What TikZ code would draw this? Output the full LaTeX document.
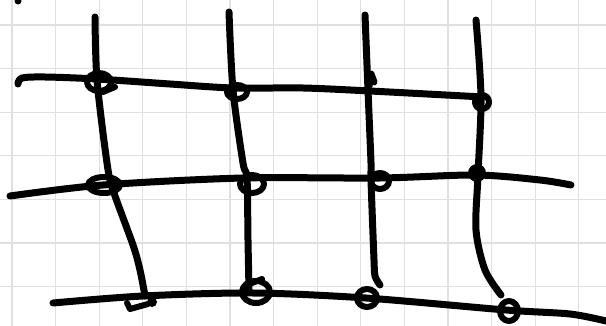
\documentclass[tikz,border=0pt]{standalone}
\begin{document}
\begin{tikzpicture}[x=1pt, y=-1pt, line cap=round, line join=round,
    stroke/.style={line width=7pt},
    knot/.style={line width=6pt}]
    \useasboundingbox (0,0) rectangle (606,326);

    % squared paper
    \foreach \x in {0,...,13} {
        \draw[black!12, line width=1.2pt] (12+43.6*\x, 0) -- ++(0, 326);
    }
    \foreach \y in {0,...,6} {
        \draw[black!12, line width=1.2pt] (0, 25+43.6*\y) -- ++(606, 0);
    }
    \fill (18,1) circle (3.5pt);

    % horizontal strokes
    \draw[stroke] plot[smooth] coordinates {(18,84) (22,78) (45,77) (97,79) (170,84) (233,88) (303,88) (370,91) (483,97)};
    \draw[stroke] plot[smooth] coordinates {(10,196) (103,185) (243,178) (380,178) (476,175) (540,180) (571,185)};
    \draw[stroke] plot[smooth] coordinates {(53,303) (143,296) (253,293) (366,298) (506,310) (570,314) (606,321)};

    % vertical strokes
    \draw[stroke] plot[smooth] coordinates {(95,17) (97,80) (107,163) (113,190) (133,245) (140,270) (145,296)};
    \draw[stroke] plot[smooth] coordinates {(229,12) (233,90) (243,163) (247,178) (248,240) (249,290)};
    \draw[stroke] plot[smooth] coordinates {(365,15) (368,90) (371,163) (371,180) (374,260) (375,276) (380,285)};
    \draw[stroke] plot[smooth] coordinates {(476,20) (481,97) (478,175) (476,230) (485,270) (501,295)};

    % knots at the crossings
    \foreach \x/\y/\a/\b in {99/82/12/9, 237/92/10/7, 482/102/7/7, 104/185/16/8,
                             252/184/12/9, 380/181/9/8, 256/292/14/11, 367/298/10/9, 509/311/9/10} {
        \draw[knot] (\x,\y) ellipse ({\a pt} and {\b pt});
    }
    \draw[knot] (103,92) -- (115,87);
    \fill (477,173) circle (9pt);
    \fill (152,302) circle (5pt);
    \draw[stroke] (369,86) -- (371,74) -- (374,82);
    \draw[knot] (127,303) -- (130,309) -- (148,304);
    \draw[knot] (252,283) -- (262,279);
\end{tikzpicture}
\end{document}
